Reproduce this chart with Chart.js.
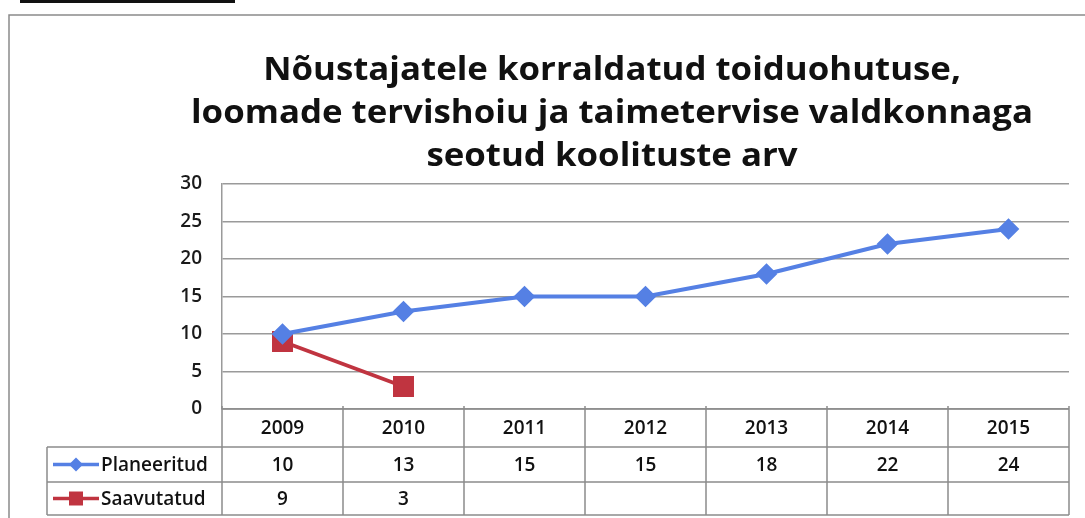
<!DOCTYPE html>
<html lang="et">
<head>
    <meta charset="UTF-8">
    <title>Koolituste arv</title>
    <script src="https://cdn.jsdelivr.net/npm/chart.js@4"></script>
    <style>
        body { margin: 0; background: #fff; }
        #wrap { position: relative; width: 1085px; height: 518px; }
    </style>
</head>
<body>
<div id="wrap"><canvas id="myChart" width="1085" height="518"></canvas></div>
<script>
    // Andmed
    const aastad = ['2009', '2010', '2011', '2012', '2013', '2014', '2015'];
    const planeeritud = [10, 13, 15, 15, 18, 22, 24];
    const saavutatud = [9, 3, null, null, null, null, null];
    const yMin = 0, yMax = 30, ySamm = 5;
    const pealkiri = [
        'Nõustajatele korraldatud toiduohutuse,',
        'loomade tervishoiu ja taimetervise valdkonnaga',
        'seotud koolituste arv'
    ];

    const sinine = 'rgb(85, 128, 228)';
    const punane = 'rgb(192, 52, 64)';
    const font = '"Open Sans", Lato, sans-serif';

    // Pealkiri, raam ja andmetabel joonistatakse ise
    const tabelPlugin = {
        id: 'tabel',
        afterDraw(chart) {
            const ctx = chart.ctx;
            const x = chart.scales.x;
            const area = chart.chartArea;
            ctx.save();

            // skanneeritud raam
            ctx.fillStyle = '#111';
            ctx.fillRect(20, 0, 215, 3);
            ctx.strokeStyle = '#8a8a8a';
            ctx.lineWidth = 1.5;
            ctx.beginPath();
            ctx.moveTo(9, 518); ctx.lineTo(9, 15); ctx.lineTo(1085, 15);
            ctx.stroke();

            // pealkiri (teine rida ~842px lai)
            ctx.fillStyle = '#111';
            ctx.font = 'bold 32px ' + font;
            ctx.textAlign = 'center';
            ctx.textBaseline = 'middle';
            const sx = 842 / ctx.measureText(pealkiri[1]).width;
            pealkiri.forEach((rida, i) => {
                ctx.save();
                ctx.translate(612, 71 + i * 43);
                ctx.scale(sx, 1);
                ctx.fillText(rida, 0, 0);
                ctx.restore();
            });

            // tabel
            const laius = (x.right - x.left) / aastad.length;
            const r0 = area.bottom, r1 = r0 + 38, r2 = r1 + 35, r3 = r2 + 33;
            const legVasak = 47;
            ctx.strokeStyle = '#8c8c8c';
            ctx.lineWidth = 1.5;
            ctx.beginPath();
            ctx.moveTo(x.left, r0); ctx.lineTo(x.right, r0);
            [r1, r2, r3].forEach(r => { ctx.moveTo(legVasak, r); ctx.lineTo(x.right, r); });
            for (let i = 0; i <= aastad.length; i++) {
                const xx = x.left + i * laius;
                ctx.moveTo(xx, r0 - 3); ctx.lineTo(xx, r3);
            }
            ctx.moveTo(legVasak, r1); ctx.lineTo(legVasak, r3);
            ctx.stroke();

            ctx.fillStyle = '#111';
            ctx.font = '600 19px ' + font;
            ctx.textAlign = 'center';
            aastad.forEach((a, i) => {
                const cx = x.getPixelForValue(i);
                ctx.fillText(a, cx, (r0 + r1) / 2 + 1);
                if (planeeritud[i] != null) ctx.fillText(String(planeeritud[i]), cx, (r1 + r2) / 2 + 1);
                if (saavutatud[i] != null) ctx.fillText(String(saavutatud[i]), cx, (r2 + r3) / 2 + 1);
            });

            // legend tabelis
            const legRead = [
                { nimi: 'Planeeritud', v: sinine, y: (r1 + r2) / 2 },
                { nimi: 'Saavutatud', v: punane, y: (r2 + r3) / 2 }
            ];
            legRead.forEach((l, i) => {
                ctx.strokeStyle = l.v;
                ctx.fillStyle = l.v;
                ctx.lineWidth = 3.5;
                ctx.beginPath();
                ctx.moveTo(53, l.y); ctx.lineTo(99, l.y);
                ctx.stroke();
                ctx.beginPath();
                if (i === 0) {
                    ctx.moveTo(76, l.y - 7); ctx.lineTo(83, l.y); ctx.lineTo(76, l.y + 7); ctx.lineTo(69, l.y);
                } else {
                    ctx.rect(69, l.y - 7, 14, 14);
                }
                ctx.fill();
                ctx.fillStyle = '#111';
                ctx.font = '600 19px ' + font;
                ctx.textAlign = 'left';
                ctx.fillText(l.nimi, 101, l.y + 1);
            });
            ctx.restore();
        }
    };

    const ctx = document.getElementById('myChart').getContext('2d');
    const chart = new Chart(ctx, {
        type: 'line',
        data: {
            labels: aastad,
            datasets: [{
                label: 'Planeeritud',
                data: planeeritud,
                borderColor: sinine,
                backgroundColor: sinine,
                borderWidth: 4,
                pointStyle: 'rectRot',
                pointRadius: 8,
                tension: 0
            }, {
                label: 'Saavutatud',
                data: saavutatud,
                borderColor: punane,
                backgroundColor: punane,
                borderWidth: 4,
                pointStyle: 'rect',
                pointRadius: 12,
                tension: 0
            }]
        },
        options: {
            responsive: false,
            animation: false,
            layout: { padding: { top: 184, bottom: 109, left: 0, right: 13 } },
            plugins: {
                legend: { display: false },
                tooltip: { enabled: false },
                title: { display: false }
            },
            scales: {
                x: {
                    offset: true,
                    grid: { display: false, drawTicks: false },
                    border: { display: false },
                    ticks: { display: false },
                    afterFit(s) { s.height = 0; }
                },
                y: {
                    min: yMin,
                    max: yMax,
                    ticks: {
                        stepSize: ySamm,
                        padding: 20,
                        color: '#1a1a1a',
                        font: { family: font, size: 19, weight: '600' }
                    },
                    grid: { color: '#9a9a9a', lineWidth: 1.5, drawTicks: false },
                    border: { color: '#9a9a9a', width: 1.5 },
                    afterFit(s) { s.width = 222; }
                }
            }
        },
        plugins: [tabelPlugin]
    });
</script>
</body>
</html>
